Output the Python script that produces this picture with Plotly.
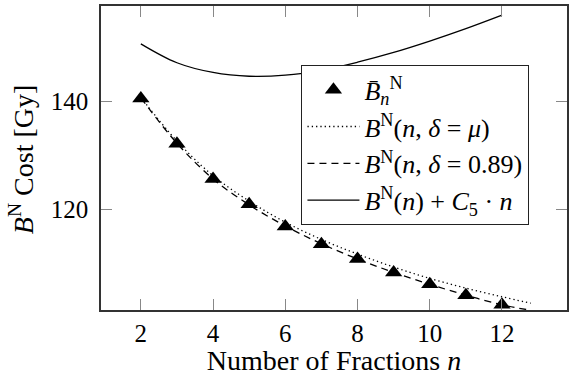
import plotly.graph_objects as go

# Mean cost per number of fractions (markers)
fractions = [2, 3, 4, 5, 6, 7, 8, 9, 10, 11, 12]
mean_cost = [140.5, 132.1, 125.6, 120.9, 116.8, 113.5, 110.8, 108.3, 106.1, 104.1, 102.3]

# Model curves evaluated on a fractional grid
n_grid = [2, 3, 4, 5, 6, 7, 8, 9, 10, 11, 12, 12.8]
cost_delta_mu = [140.7, 132.6, 126.2, 121.5, 117.6, 114.4, 111.7, 109.3, 107.2, 105.4, 103.8, 102.6]
cost_delta_089 = [140.6, 132.2, 125.6, 120.8, 116.9, 113.6, 110.8, 108.3, 106.1, 104.1, 102.3, 101.3]

n_total = [2, 3, 4, 5, 6, 7, 8, 9, 10, 11, 12]
cost_plus_c5 = [150.6, 147.1, 145.3, 144.6, 144.8, 145.7, 147.2, 149.0, 151.1, 153.4, 155.9]

x_ticks = [2, 4, 6, 8, 10, 12]
y_ticks = [120, 140]

FONT = "Liberation Serif"
INK = "black"

fig = go.Figure()

fig.add_trace(go.Scatter(
    x=n_grid, y=cost_delta_mu, mode="lines",
    name="<i>B</i><sup>N</sup>(<i>n</i>, <i>δ</i> = <i>μ</i>)",
    line=dict(color=INK, width=1.3, dash="1.3px,3px", shape="spline"),
    legendrank=2,
))
fig.add_trace(go.Scatter(
    x=n_grid, y=cost_delta_089, mode="lines",
    name="<i>B</i><sup>N</sup>(<i>n</i>, <i>δ</i> = 0.89)",
    line=dict(color=INK, width=1.3, dash="7px,5px", shape="spline"),
    legendrank=3,
))
fig.add_trace(go.Scatter(
    x=n_total, y=cost_plus_c5, mode="lines",
    name="<i>B</i><sup>N</sup>(<i>n</i>) + <i>C</i><sub>5</sub> · <i>n</i>",
    line=dict(color=INK, width=1.3, shape="spline"),
    legendrank=4,
))
fig.add_trace(go.Scatter(
    x=fractions, y=mean_cost, mode="markers",
    name="<i>B̄</i><sub><i>n</i></sub><sup>N</sup>",
    marker=dict(symbol="triangle-up", size=15, color=INK, line=dict(width=0)),
    legendrank=1,
))

axis_common = dict(
    showline=True, linecolor="#333", linewidth=1.5, mirror="ticks",
    ticks="inside", ticklen=11, tickwidth=1, tickcolor="#888",
    showgrid=False, zeroline=False,
    tickfont=dict(family=FONT, size=25, color=INK),
)

fig.update_xaxes(
    range=[0.897, 13.8], tickvals=x_ticks,
    title=dict(text="Number of Fractions <i>n</i>",
               font=dict(family=FONT, size=28, color=INK), standoff=5),
    **axis_common,
)
fig.update_yaxes(
    range=[101.35, 157.6], tickvals=y_ticks, ticklabelstandoff=6,
    **axis_common,
)

# Vertical axis caption, centred on the plotting area
fig.add_annotation(
    text="<i>B</i><sup>N</sup> Cost [Gy]",
    xref="paper", yref="paper", x=-0.169, y=0.497,
    xanchor="center", yanchor="middle", textangle=-90,
    showarrow=False, font=dict(family=FONT, size=28, color=INK),
)

fig.update_layout(
    width=569, height=376, autosize=False,
    margin=dict(l=101, r=0, t=6, b=66),
    plot_bgcolor="white", paper_bgcolor="white",
    font=dict(family=FONT, color=INK),
    legend=dict(
        x=0.4295, y=0.806, xanchor="left", yanchor="top",
        bgcolor="white", bordercolor="#222", borderwidth=1.3,
        font=dict(family=FONT, size=26, color=INK),
        itemwidth=52, tracegroupgap=0,
    ),
)

fig.write_html("out.html")
